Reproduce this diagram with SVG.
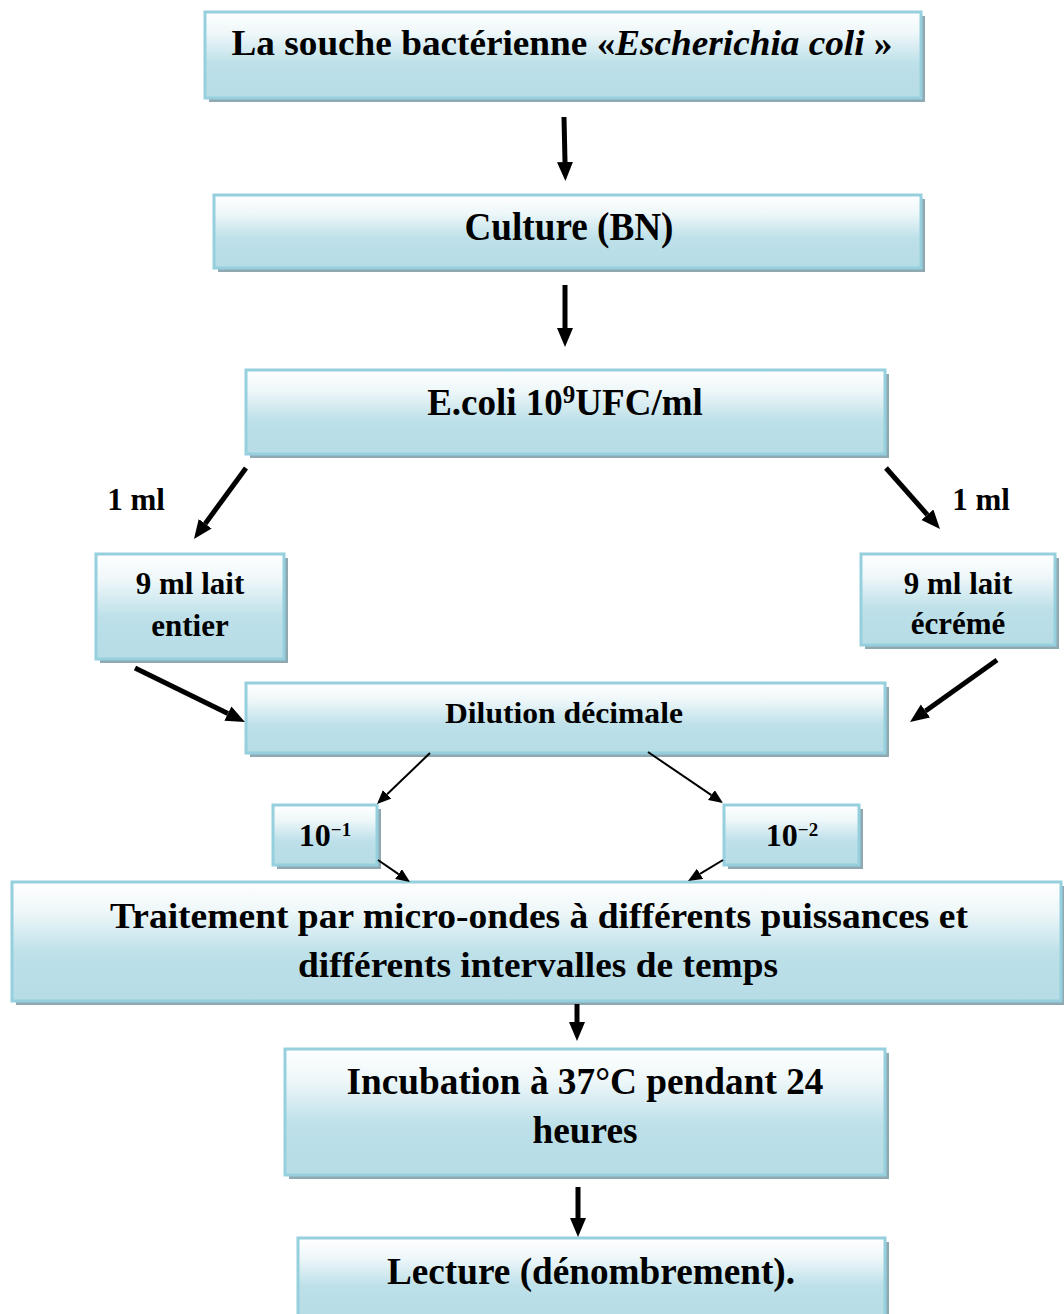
<svg xmlns="http://www.w3.org/2000/svg" width="1064" height="1314" viewBox="0 0 1064 1314">
<style>
.box{fill:url(#grad);stroke:#96d0de;stroke-width:3}
.sh{fill:#8ea9b2}
.t{font-family:"Liberation Serif","Times New Roman",serif;font-weight:bold;fill:#000;text-anchor:middle}
.thick{stroke:#000;stroke-width:5;fill:none;marker-end:url(#hk)}
.thin{stroke:#000;stroke-width:2;fill:none;marker-end:url(#hn)}
</style>
<defs>
<linearGradient id="grad" x1="0" y1="0" x2="0" y2="1">
<stop offset="0" stop-color="#ffffff"/>
<stop offset="0.25" stop-color="#eef7f9"/>
<stop offset="0.6" stop-color="#bde0e9"/>
<stop offset="1" stop-color="#b6dce6"/>
</linearGradient>
<marker id="hk" markerUnits="userSpaceOnUse" markerWidth="20" markerHeight="17" refX="0" refY="8" orient="auto">
<path d="M0,0 L19,8 L0,16 z" fill="#000"/>
</marker>
<marker id="hn" markerUnits="userSpaceOnUse" markerWidth="15" markerHeight="13" refX="0" refY="6" orient="auto">
<path d="M0,0 L14,6 L0,12 z" fill="#000"/>
</marker>
</defs>
<rect width="1064" height="1314" fill="#fff"/>

<g id="n1">
<rect class="sh" x="209" y="16" width="716" height="86"/>
<rect class="box" x="205" y="12" width="716" height="86"/>
<text class="t" x="562" y="55" font-size="35" textLength="661" lengthAdjust="spacingAndGlyphs">La souche bactérienne «<tspan font-style="italic">Escherichia coli</tspan> »</text>
</g>
<g id="n2">
<rect class="sh" x="218" y="199" width="707" height="73"/>
<rect class="box" x="214" y="195" width="707" height="73"/>
<text class="t" x="569" y="240" font-size="40" textLength="209" lengthAdjust="spacingAndGlyphs">Culture (BN)</text>
</g>
<g id="n3">
<rect class="sh" x="250" y="374" width="639" height="84"/>
<rect class="box" x="246" y="370" width="639" height="84"/>
<text class="t" x="565" y="415" font-size="37">E.coli 10<tspan font-size="25" dy="-12">9</tspan><tspan dy="12">UFC/ml</tspan></text>
</g>
<g id="n4">
<rect class="sh" x="100" y="558" width="188" height="105"/>
<rect class="box" x="96" y="554" width="188" height="105"/>
<text class="t" x="190" y="594" font-size="31">9 ml lait</text>
<text class="t" x="190" y="636" font-size="31">entier</text>
</g>
<g id="n5">
<rect class="sh" x="865" y="558" width="194" height="91"/>
<rect class="box" x="861" y="554" width="194" height="91"/>
<text class="t" x="958" y="594" font-size="31">9 ml lait</text>
<text class="t" x="958" y="634" font-size="31">écrémé</text>
</g>
<g id="n6">
<rect class="sh" x="250" y="687" width="639" height="70"/>
<rect class="box" x="246" y="683" width="639" height="70"/>
<text class="t" x="564" y="723" font-size="30" textLength="238" lengthAdjust="spacingAndGlyphs">Dilution décimale</text>
</g>
<g id="n7">
<rect class="sh" x="277" y="809" width="104" height="60"/>
<rect class="box" x="273" y="805" width="104" height="60"/>
<text class="t" x="325" y="846" font-size="32">10<tspan font-size="19" dy="-10">−1</tspan></text>
</g>
<g id="n8">
<rect class="sh" x="728" y="809" width="135" height="60"/>
<rect class="box" x="724" y="805" width="135" height="60"/>
<text class="t" x="792" y="846" font-size="32">10<tspan font-size="19" dy="-10">−2</tspan></text>
</g>
<g id="n9">
<rect class="sh" x="16" y="886" width="1049" height="119"/>
<rect class="box" x="12" y="882" width="1049" height="119"/>
<text class="t" x="539" y="928" font-size="36" textLength="858" lengthAdjust="spacingAndGlyphs">Traitement par micro-ondes à différents puissances et</text>
<text class="t" x="538" y="977" font-size="36" textLength="480" lengthAdjust="spacingAndGlyphs">différents intervalles de temps</text>
</g>
<g id="n10">
<rect class="sh" x="289" y="1053" width="600" height="126"/>
<rect class="box" x="285" y="1049" width="600" height="126"/>
<text class="t" x="585" y="1094" font-size="37" textLength="477" lengthAdjust="spacingAndGlyphs">Incubation à 37°C pendant 24</text>
<text class="t" x="585" y="1143" font-size="37" textLength="105" lengthAdjust="spacingAndGlyphs">heures</text>
</g>
<g id="n11">
<rect class="sh" x="302" y="1242" width="587" height="80"/>
<rect class="box" x="298" y="1238" width="587" height="80"/>
<text class="t" x="591" y="1284" font-size="37" textLength="408" lengthAdjust="spacingAndGlyphs">Lecture (dénombrement).</text>
</g>

<g id="labels">
<text class="t" x="136" y="510" font-size="31">1 ml</text>
<text class="t" x="981" y="510" font-size="31">1 ml</text>
</g>

<g id="connectors">
<line class="thick" x1="564" y1="117" x2="565" y2="162"/>
<line class="thick" x1="565" y1="285" x2="565" y2="328"/>
<line class="thick" x1="246" y1="468" x2="205.2" y2="523.7"/>
<line class="thick" x1="886" y1="468" x2="927.4" y2="514.8"/>
<line class="thick" x1="135" y1="668" x2="227.9" y2="713.6"/>
<line class="thick" x1="997" y1="660" x2="925.5" y2="711"/>
<line class="thin" x1="430" y1="753" x2="387.1" y2="794.3"/>
<line class="thin" x1="648" y1="752" x2="711.4" y2="795.1"/>
<line class="thin" x1="378" y1="860" x2="398.5" y2="874.1"/>
<line class="thin" x1="723" y1="860" x2="700" y2="873.8"/>
<line class="thick" x1="577" y1="1004" x2="577" y2="1022"/>
<line class="thick" x1="578" y1="1187" x2="578" y2="1218"/>
</g>
</svg>
